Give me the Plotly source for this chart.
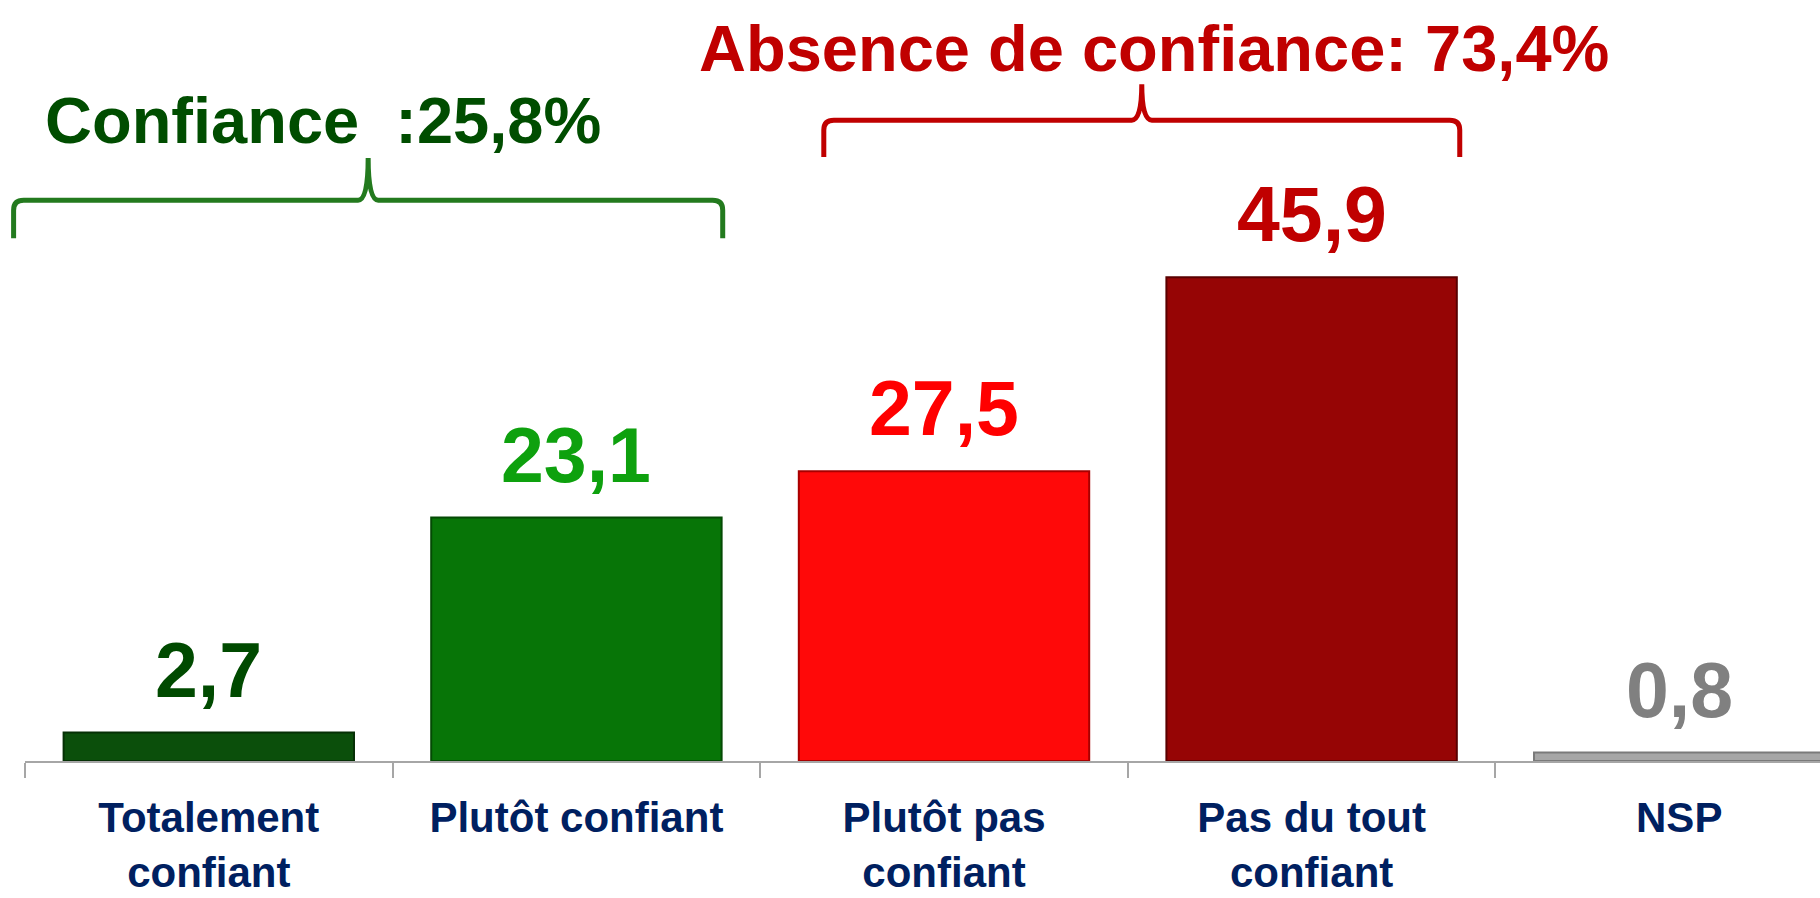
import plotly.graph_objects as go

categories = ["Totalement<br>confiant", "Plutôt confiant", "Plutôt pas<br>confiant",
              "Pas du tout<br>confiant", "NSP"]
values = [2.7, 23.1, 27.5, 45.9, 0.8]
bar_colors = ["#0B4F0B", "#077507", "#FF0909", "#960505", "#A6A6A6"]
bar_edges = ["#063006", "#044A04", "#A80000", "#5A0000", "#7A7A7A"]
label_colors = ["#004A00", "#0EA10E", "#FF0000", "#C00000", "#808080"]

group_titles = ["Confiance \u00a0:25,8%", "Absence de confiance: 73,4%"]
group_colors = ["#004D00", "#C00000"]
brace_colors = ["#237A1E", "#C00000"]

FONT = "Liberation Sans, Arial, sans-serif"

X_RANGE = [-0.5, 4.383]
Y_RANGE = [0, 72.2]

fig = go.Figure()
fig.add_trace(go.Bar(
    x=categories, y=values, width=0.79,
    marker=dict(color=bar_colors, line=dict(color=bar_edges, width=2)),
    hoverinfo="skip",
))

# value labels
for i, v in enumerate(values):
    fig.add_annotation(
        x=i, y=v, xref="x", yref="y",
        text=f"{v:.1f}".replace(".", ","),
        showarrow=False, yanchor="bottom", yshift=18,
        font=dict(family=FONT, size=77, color=label_colors[i], weight="bold"),
    )

def px_(xc):
    return (xc - X_RANGE[0]) / (X_RANGE[1] - X_RANGE[0])

def py_(yv):
    return (yv - Y_RANGE[0]) / (Y_RANGE[1] - Y_RANGE[0])

# braces: spans in category units, heights in value units (converted to paper so they are not clipped)
def brace_path(x0, x1, y_end, y_flat, y_peak, rx=0.0056, ry=0.013):
    x0, x1 = px_(x0), px_(x1)
    y_end, y_flat, y_peak = py_(y_end), py_(y_flat), py_(y_peak)
    xm = (x0 + x1) / 2
    return (f"M {x0},{y_end} L {x0},{y_flat - ry} Q {x0},{y_flat} {x0 + rx},{y_flat} "
            f"L {xm - rx},{y_flat} Q {xm},{y_flat} {xm},{y_peak} "
            f"Q {xm},{y_flat} {xm + rx},{y_flat} "
            f"L {x1 - rx},{y_flat} Q {x1},{y_flat} {x1},{y_flat - ry} L {x1},{y_end}")

braces = [(-0.531, 1.398, 49.6, 53.2, 57.2), (1.673, 3.403, 57.3, 60.8, 64.2)]
title_pos = [(0.31, 60.8), (2.57, 67.6)]
for k, (x0, x1, ye, yf, yp) in enumerate(braces):
    fig.add_shape(type="path", path=brace_path(x0, x1, ye, yf, yp), xref="paper", yref="paper",
                  line=dict(color=brace_colors[k], width=5))
    fig.add_annotation(
        x=title_pos[k][0], y=title_pos[k][1], xref="x", yref="y",
        text=group_titles[k], showarrow=False, xanchor="center", yanchor="middle",
        font=dict(family=FONT, size=65, color=group_colors[k], weight="bold"),
    )

fig.update_layout(
    width=1820, height=898,
    margin=dict(l=25, r=0, t=0, b=137, autoexpand=False),
    paper_bgcolor="white", plot_bgcolor="white",
    showlegend=False,
    xaxis=dict(
        type="category", range=X_RANGE, automargin=False,
        tickson="boundaries", ticks="outside", ticklen=15,
        tickcolor="#A6A6A6", tickwidth=1.5,
        showline=True, linecolor="#A6A6A6", linewidth=2,
        showgrid=False, zeroline=False, ticklabelstandoff=19,
        tickfont=dict(family=FONT, size=42, color="#002060", weight="bold"),
        fixedrange=True,
    ),
    yaxis=dict(range=Y_RANGE, visible=False, showgrid=False, zeroline=False,
               fixedrange=True, automargin=False),
)

fig.write_html("out.html", config={"displayModeBar": False},
               post_script="document.body.style.margin='0';document.body.style.overflow='hidden';")
